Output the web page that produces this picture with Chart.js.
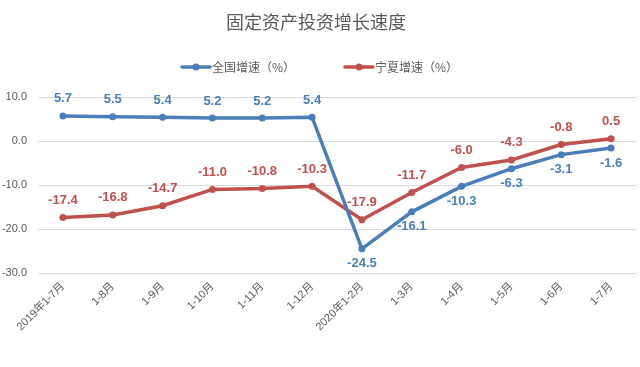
<!DOCTYPE html>
<html>
<head>
<meta charset="utf-8">
<title>固定资产投资增长速度</title>
<script src="https://cdn.jsdelivr.net/npm/chart.js@4/dist/chart.umd.min.js"></script>
<style>
  body { margin: 0; background: #fff; }
  #chart-container { width: 640px; height: 367px; position: relative; }
</style>
</head>
<body>
<div id="chart-container">
  <canvas id="line-chart"></canvas>
</div>
<script>
// data
const months = ['2019年1-7月', '1-8月', '1-9月', '1-10月', '1-11月', '1-12月',
                '2020年1-2月', '1-3月', '1-4月', '1-5月', '1-6月', '1-7月']
const quanguo = [5.7, 5.5, 5.4, 5.2, 5.2, 5.4, -24.5, -16.1, -10.3, -6.3, -3.1, -1.6]
const ningxia = [-17.4, -16.8, -14.7, -11.0, -10.8, -10.3, -17.9, -11.7, -6.0, -4.3, -0.8, 0.5]
const seriesNames = ['全国增速（%）', '宁夏增速（%）']
const yTicks = [10, 0, -10, -20, -30]

const chartTitle = '固定资产投资增长速度'
const blue = '#4a7ebb'
const red = '#c0504d'
const grey = '#595959'
const cjk = '"Noto Sans CJK SC", sans-serif'

// title + legend drawn by hand, excel style
const headerPlugin = {
    id: 'header',
    afterDraw(chart) {
        const ctx = chart.ctx
        const w = chart.width
        ctx.save()
        ctx.fillStyle = grey
        ctx.font = '18px ' + cjk
        ctx.textAlign = 'center'
        ctx.textBaseline = 'middle'
        ctx.fillText(chartTitle, w / 2 - 4, 22)

        ctx.font = '12px ' + cjk
        const lineLen = 28
        const pitch = 163
        const widths = seriesNames.map(n => ctx.measureText(n).width)
        const total = pitch + lineLen + 2 + widths[1]
        let x = w / 2 - total / 2
        const y = 67
        chart.data.datasets.forEach((ds, i) => {
            ctx.strokeStyle = ds.borderColor
            ctx.fillStyle = ds.borderColor
            ctx.lineWidth = 3.5
            ctx.lineCap = 'round'
            ctx.beginPath()
            ctx.moveTo(x, y)
            ctx.lineTo(x + lineLen, y)
            ctx.stroke()
            ctx.beginPath()
            ctx.arc(x + lineLen / 2, y, 3.5, 0, Math.PI * 2)
            ctx.fill()
            ctx.fillStyle = grey
            ctx.textAlign = 'left'
            ctx.fillText(ds.label, x + lineLen + 2, y)
            x += pitch
        })
        ctx.restore()
    }
}

// value labels above / below the points
const valueLabels = {
    id: 'valueLabels',
    afterDatasetsDraw(chart) {
        const ctx = chart.ctx
        ctx.save()
        ctx.font = 'bold 13px "Liberation Sans", sans-serif'
        ctx.textAlign = 'center'
        ctx.textBaseline = 'middle'
        chart.data.datasets.forEach((ds, i) => {
            const meta = chart.getDatasetMeta(i)
            ctx.fillStyle = ds.borderColor
            meta.data.forEach((pt, j) => {
                const below = ds.labelBelow && ds.labelBelow(j)
                const dy = below ? 15 : -17
                ctx.fillText(ds.data[j].toFixed(1), pt.x, pt.y + dy)
            })
        })
        ctx.restore()
    }
}

window.addEventListener('load', (event) => {
    const ctx = document.getElementById('line-chart').getContext('2d')
    new Chart(ctx, {
        type: 'line',
        data: {
            labels: months,
            datasets: [{
                label: seriesNames[0],
                data: quanguo,
                borderColor: blue,
                backgroundColor: blue,
                borderWidth: 3.5,
                pointRadius: 3.5,
                pointBackgroundColor: blue,
                pointBorderWidth: 0,
                labelBelow: (j) => j >= 6
            }, {
                label: seriesNames[1],
                data: ningxia,
                borderColor: red,
                backgroundColor: red,
                borderWidth: 3.5,
                pointRadius: 3.5,
                pointBackgroundColor: red,
                pointBorderWidth: 0
            }]
        },
        options: {
            responsive: true,
            maintainAspectRatio: false,
            animation: false,
            layout: { padding: { top: 97, right: 0, left: 0, bottom: 0 } },
            plugins: {
                legend: { display: false },
                title: { display: false },
                tooltip: { enabled: false }
            },
            scales: {
                x: {
                    offset: true,
                    grid: { display: false, drawTicks: false },
                    border: { display: false },
                    ticks: {
                        color: grey,
                        font: { size: 11, family: '"Liberation Sans", "Noto Sans CJK SC", sans-serif' },
                        minRotation: 45,
                        maxRotation: 45,
                        padding: 7
                    },
                    afterFit: (scale) => { scale.height = 94 }
                },
                y: {
                    min: -30,
                    max: 10,
                    afterBuildTicks: (scale) => {
                        scale.ticks = yTicks.map(v => ({ value: v }))
                    },
                    grid: { color: '#d9d9d9', lineWidth: 1, drawTicks: false },
                    border: { display: false },
                    ticks: {
                        color: grey,
                        font: { size: 11, family: '"Liberation Sans", sans-serif' },
                        padding: 11,
                        callback: (v) => Number(v).toFixed(1)
                    },
                    afterFit: (scale) => { scale.width = 38 }
                }
            }
        },
        plugins: [headerPlugin, valueLabels]
    })
})
</script>
</body>
</html>
